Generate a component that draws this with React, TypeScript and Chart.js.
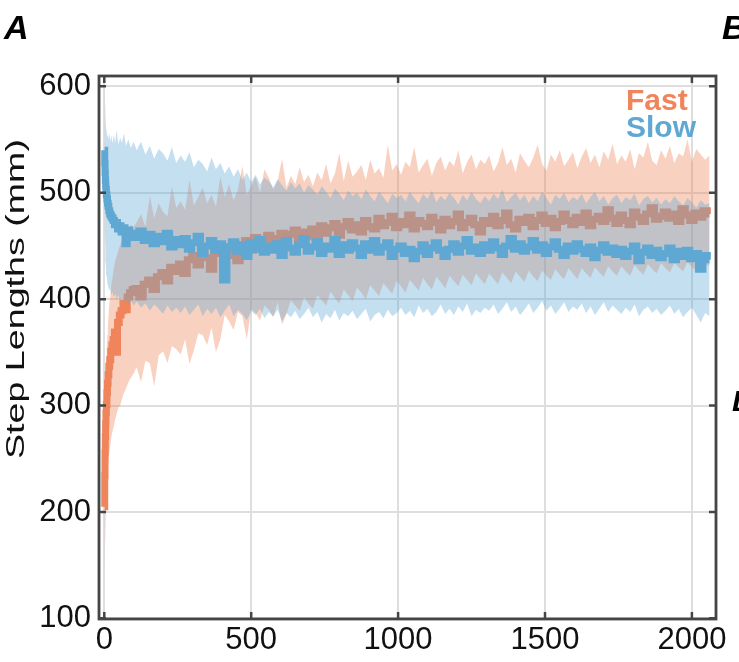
import { useEffect, useRef } from "react";
import { Chart, registerables } from "chart.js";
Chart.register(...registerables);

// ---- data (step index, values in mm) ----
const steps = [1, 2, 3, 4, 5, 6, 8, 10, 12, 14, 17, 20, 24, 28, 32, 37, 42, 48, 54, 60, 67, 74, 82, 90, 100,
  110, 125, 140, 155, 170, 185, 200, 215, 230, 245, 260, 275, 290, 305, 320, 335, 350, 365, 380, 395,
  410, 425, 440, 455, 470, 485, 500, 515, 530, 545, 560, 575, 590, 605, 620, 635, 650, 665, 680, 695,
  710, 725, 740, 755, 770, 785, 800, 815, 830, 845, 860, 875, 890, 905, 920, 935, 950, 965, 980, 995,
  1010, 1025, 1040, 1055, 1070, 1085, 1100, 1115, 1130, 1145, 1160, 1175, 1190, 1205, 1220, 1235, 1250, 1265, 1280, 1295,
  1310, 1325, 1340, 1355, 1370, 1385, 1400, 1415, 1430, 1445, 1460, 1475, 1490, 1505, 1520, 1535, 1550, 1565, 1580, 1595,
  1610, 1625, 1640, 1655, 1670, 1685, 1700, 1715, 1730, 1745, 1760, 1775, 1790, 1805, 1820, 1835, 1850, 1865, 1880, 1895,
  1910, 1925, 1940, 1955, 1970, 1985, 2000, 2015, 2030, 2045, 2060];

const fastMean = [205, 234, 256, 271, 283, 293, 301, 312, 321, 329, 337, 343, 351, 357, 362, 369, 350, 378, 385, 389, 396, 390, 402, 406, 409,
  410, 402, 414, 418, 409, 421, 425, 417, 430, 426,
  433, 424, 437, 441, 432, 444, 439, 428, 447, 443,
  449, 441, 452, 436, 450, 455, 446, 458, 451, 447,
  460, 453, 457, 462, 450, 461, 465, 456, 463, 459,
  466, 458, 469, 462, 467, 471, 460, 468, 473, 465,
  470, 463, 474, 468, 466, 476, 469, 472, 478, 467,
  473, 470, 479, 466, 474, 471, 468, 477, 472, 465,
  475, 469, 473, 480, 467, 472, 476, 470, 463, 474,
  471, 478, 469, 474, 481, 470, 466, 475, 472, 477,
  468, 474, 479, 471, 476, 467, 473, 480, 474, 470,
  477, 472, 481, 469, 475, 478, 473, 484, 476, 471,
  479, 474, 470, 482, 477, 473, 480, 486, 475, 478,
  482, 476, 480, 473, 485, 479, 474, 481, 477, 483,
  480];

const fastUpper = [262, 287, 306, 319, 331, 342, 353, 366, 374, 383, 395, 402, 414, 420, 428, 436, 440, 446, 451, 455, 462, 458, 466, 470, 468,
  472, 480, 468, 497, 476, 490, 482, 478, 506, 486,
  492, 484, 512, 488, 496, 505, 490, 498, 487, 515,
  496, 508, 493, 503, 525, 498, 506, 515, 500, 522,
  514, 503, 511, 532, 505, 516, 508, 524, 510, 517,
  506, 519, 512, 527, 509, 518, 537, 511, 530, 515,
  520, 526, 512, 531, 518, 523, 514, 545, 521, 527,
  517, 529, 524, 543, 519, 526, 532, 516, 528, 534,
  521, 530, 525, 540, 518, 529, 536, 522, 531, 527,
  535, 520, 528, 543, 526, 532, 519, 537, 530, 524,
  533, 545, 527, 521, 536, 529, 540, 525, 531, 538,
  523, 534, 542, 528, 536, 524, 539, 531, 546, 527,
  535, 529, 541, 522, 537, 533, 548, 530, 526, 540,
  532, 544, 528, 537, 534, 550, 529, 541, 536, 531,
  535];

const fastLower = [150, 165, 178, 190, 200, 212, 222, 232, 240, 248, 256, 262, 270, 276, 280, 287, 292, 298, 300, 306, 312, 316, 322, 326, 330,
  336, 322, 342, 340, 318, 347, 351, 340, 356, 353,
  348, 362, 339, 352, 368, 366, 357, 373, 350, 362,
  385, 379, 371, 388, 384, 362, 391, 387, 380, 394,
  390, 383, 397, 376, 386, 399, 394, 389, 402, 396,
  391, 404, 399, 394, 407, 401, 396, 409, 404, 398,
  411, 406, 400, 413, 408, 403, 415, 410, 405, 417,
  412, 406, 418, 413, 408, 420, 414, 409, 421, 416,
  410, 422, 417, 412, 423, 418, 413, 424, 419, 414,
  424, 419, 414, 425, 420, 415, 426, 421, 416, 427,
  421, 417, 427, 422, 418, 428, 423, 419, 429, 424,
  419, 429, 424, 420, 430, 425, 421, 431, 426, 422,
  431, 426, 422, 432, 427, 423, 433, 428, 424, 434,
  429, 425, 434, 430, 426, 435, 430, 427, 436, 431,
  432];

const slowMean = [540, 528, 519, 512, 507, 503, 498, 494, 490, 487, 483, 480, 478, 476, 474, 470, 472, 466, 469, 463, 467, 452, 465, 458, 462,
  458, 464, 455, 461, 452, 459, 454, 462, 449, 456,
  451, 457, 447, 453, 459, 443, 450, 455, 446, 452,
  418, 449, 454, 445, 451, 440, 453, 447, 456, 444,
  450, 446, 452, 441, 455, 448, 444, 451, 457, 445,
  449, 454, 443, 450, 447, 456, 442, 451, 446, 453,
  448, 441, 452, 446, 455, 444, 449, 453, 440, 447,
  450, 443, 447, 438, 445, 451, 442, 448, 453, 446,
  440, 447, 452, 444, 450, 456, 445, 449, 443, 451,
  446, 454, 448, 442, 450, 457, 447, 452, 445, 449,
  455, 446, 451, 443, 449, 454, 447, 441, 450, 445,
  452, 447, 443, 449, 439, 446, 451, 444, 448, 442,
  447, 440, 445, 450, 436, 444, 448, 441, 446, 439,
  443, 448, 437, 445, 440, 446, 438, 443, 428, 441,
  437];

const slowUpper = [600, 590, 582, 574, 567, 562, 557, 553, 558, 550, 556, 548, 554, 546, 555, 547, 559, 545, 552, 547, 556, 544, 550, 542, 548,
  540, 548, 536, 544, 532, 541, 537, 530, 543, 528,
  535, 529, 538, 524, 531, 527, 520, 533, 522, 528,
  518, 525, 515, 522, 512, 519, 510, 517, 508, 514,
  511, 505, 513, 507, 502, 510, 504, 509, 500, 507,
  503, 498, 506, 501, 495, 504, 499, 493, 502, 497,
  500, 494, 503, 497, 492, 501, 496, 490, 499, 495,
  498, 492, 501, 495, 490, 499, 494, 502, 491, 497,
  493, 500, 495, 489, 498, 493, 501, 494, 490, 497,
  492, 499, 494, 503, 491, 496, 500, 493, 498, 490,
  497, 492, 501, 495, 489, 498, 494, 500, 491, 496,
  493, 499, 490, 496, 501, 492, 497, 489, 495, 498,
  490, 496, 493, 499, 488, 494, 497, 491, 495, 489,
  494, 490, 497, 492, 488, 495, 491, 486, 493, 489,
  490];

const slowLower = [480, 462, 450, 441, 434, 428, 422, 418, 414, 411, 408, 410, 404, 407, 402, 405, 400, 404, 398, 402, 396, 400, 395, 399, 394,
  398, 392, 396, 389, 395, 391, 386, 394, 388, 392,
  387, 393, 385, 390, 395, 384, 391, 386, 392, 383,
  389, 395, 384, 390, 386, 380, 389, 385, 391, 382,
  388, 384, 390, 379, 387, 383, 389, 381, 386, 392,
  383, 388, 378, 386, 382, 390, 380, 387, 384, 389,
  381, 386, 391, 379, 385, 388, 382, 390, 384, 387,
  392, 385, 389, 383, 394, 387, 391, 384, 388, 395,
  386, 391, 385, 393, 388, 396, 384, 390, 387, 392,
  389, 395, 386, 391, 397, 388, 393, 385, 390, 396,
  387, 392, 398, 389, 394, 386, 391, 397, 388, 393,
  390, 396, 387, 393, 385, 391, 397, 388, 394, 390,
  386, 392, 388, 395, 384, 390, 393, 387, 391, 385,
  389, 394, 386, 391, 383, 388, 392, 385, 378, 387,
  384];

const xTicks = [0, 500, 1000, 1500, 2000];
const yTicks = [100, 200, 300, 400, 500, 600];
const seriesNames = ["Fast", "Slow"];
const yTitle = "Step Lengths (mm)";
const panelLetters = ["A", "B", "D"];

// ---- styles ----
const FAST = "rgb(240,133,92)";
const SLOW = "rgb(95,168,211)";
const FAST_BAND = "rgba(240,133,92,0.38)";
const SLOW_BAND = "rgba(95,168,211,0.37)";
const AXIS = "#454545";
const FONT = '"Liberation Sans", Arial, Helvetica, sans-serif';

const pts = (vals: number[]) => steps.map((x, i) => ({ x, y: vals[i] }));

const decor = {
  id: "decor",
  afterDraw(chart: any) {
    const { ctx, chartArea: a, scales } = chart;
    const x = scales.x, y = scales.y;
    ctx.save();
    // inward ticks on all four sides + box
    ctx.strokeStyle = AXIS;
    ctx.lineWidth = 2.5;
    ctx.beginPath();
    for (const v of yTicks) {
      const py = y.getPixelForValue(v);
      ctx.moveTo(a.left, py); ctx.lineTo(a.left + 7, py);
      ctx.moveTo(a.right, py); ctx.lineTo(a.right - 7, py);
    }
    for (const v of xTicks) {
      const px = x.getPixelForValue(v);
      ctx.moveTo(px, a.bottom); ctx.lineTo(px, a.bottom - 7);
      ctx.moveTo(px, a.top); ctx.lineTo(px, a.top + 7);
    }
    ctx.stroke();
    ctx.lineWidth = 2.8;
    ctx.strokeRect(a.left, a.top, a.right - a.left, a.bottom - a.top);

    // legend text
    ctx.font = `bold 30px ${FONT}`;
    ctx.textAlign = "left";
    ctx.textBaseline = "alphabetic";
    ctx.fillStyle = FAST;
    ctx.fillText(seriesNames[0], a.right - 90, 110);
    ctx.fillStyle = SLOW;
    ctx.fillText(seriesNames[1], a.right - 90, 137);

    // y title (rotated)
    ctx.save();
    ctx.font = `26px ${FONT}`;
    const w = ctx.measureText(yTitle).width;
    ctx.translate(24, 299);
    ctx.rotate(-Math.PI / 2);
    ctx.scale(320 / w, 1);
    ctx.textAlign = "center";
    ctx.fillStyle = "#111";
    ctx.fillText(yTitle, 0, 0);
    ctx.restore();

    // panel letters
    ctx.fillStyle = "#000";
    ctx.font = `italic bold 34px ${FONT}`;
    ctx.fillText(panelLetters[0], 4, 39);
    ctx.fillText(panelLetters[1], 722, 39);
    ctx.font = `italic bold 30px ${FONT}`;
    ctx.fillText(panelLetters[2], 732, 411);
    ctx.restore();
  },
};

export default function App() {
  const ref = useRef<HTMLCanvasElement>(null);
  useEffect(() => {
    if (!ref.current) return;
    const lineDs = (data: number[], color: string, order: number) => ({
      data: pts(data), borderColor: color, borderWidth: 7, pointRadius: 0,
      tension: 0, fill: false, order, stepped: "middle" as const,
      borderJoinStyle: "miter" as const, borderCapStyle: "butt" as const,
    });
    const bandDs = (data: number[], color: string, order: number, fill: any) => ({
      data: pts(data), borderWidth: 0, borderColor: "rgba(0,0,0,0)", pointRadius: 0,
      tension: 0, backgroundColor: color, fill, order,
    });
    const chart = new Chart(ref.current, {
      type: "line",
      data: {
        datasets: [
          lineDs(slowMean, SLOW, 0),
          bandDs(slowUpper, SLOW_BAND, 1, "+1"),
          bandDs(slowLower, SLOW_BAND, 1, false),
          lineDs(fastMean, FAST, 2),
          bandDs(fastUpper, FAST_BAND, 3, "+1"),
          bandDs(fastLower, FAST_BAND, 3, false),
        ] as any,
      },
      options: {
        animation: false,
        responsive: false,
        layout: { padding: { top: 76, right: 23, left: 0, bottom: 0 } },
        plugins: { legend: { display: false }, tooltip: { enabled: false } },
        scales: {
          x: {
            type: "linear", min: -18, max: 2082,
            afterFit: (s: any) => { s.height = 43; },
            afterBuildTicks: (s: any) => { s.ticks = xTicks.map((v) => ({ value: v })); },
            grid: { color: "rgb(222,222,222)", lineWidth: 2, drawTicks: false },
            border: { display: false },
            ticks: {
              autoSkip: false, maxRotation: 0, padding: 3, color: "#111",
              font: { family: FONT, size: 31 }, callback: (v: any) => String(v),
            },
          },
          y: {
            type: "linear", min: 99.4, max: 609.7,
            afterFit: (s: any) => { s.width = 99; },
            afterBuildTicks: (s: any) => { s.ticks = yTicks.map((v) => ({ value: v })); },
            grid: { color: "rgb(222,222,222)", lineWidth: 2, drawTicks: false },
            border: { display: false },
            ticks: {
              padding: 8, color: "#111",
              font: { family: FONT, size: 31 }, callback: (v: any) => String(v),
            },
          },
        },
      },
      plugins: [decor],
    });
    return () => chart.destroy();
  }, []);
  return (
    <div style={{ position: "fixed", left: 0, top: 0, width: 739, height: 662, background: "#fff" }}>
      <canvas ref={ref} width={739} height={662} />
    </div>
  );
}
